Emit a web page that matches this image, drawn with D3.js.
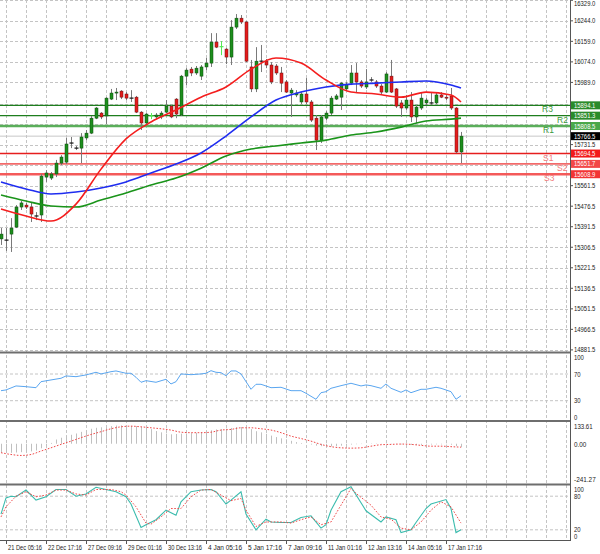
<!DOCTYPE html>
<html><head><meta charset="utf-8">
<script src="https://cdn.jsdelivr.net/npm/d3@7"></script>
<style>body{margin:0;background:#fff}svg{display:block}text{font-family:"Liberation Sans",Arial,sans-serif}</style>
</head><body><svg id="c" width="600" height="554"></svg>
<script>
// ---------- DATA ----------
const opens=[15341,15336,15361,15390,15473,15481,15473,15436,15440,15597,15593,15610,15655,15659,15738,15717,15717,15759,15779,15841,15862,15850,15920,15945,15953,15941,15924,15928,15866,15821,15850,15846,15846,15866,15891,15920,15854,16015,16044,16028,16015,16053,16069,16156,16137,16127,16094,16218,16255,16239,16053,15962,16077,16077,16061,16057,16028,15991,15945,15937,15908,15941,15908,15841,15750,15841,15862,15920,15928,15962,15986,16028,15991,15970,15999,15991,15974,15949,16015,15962,15904,15883,15916,15846,15883,15904,15904,15904,15937,15928,15933,15883,15701];
const highs=[15386,15386,15427,15481,15498,15490,15490,15452,15610,15626,15618,15668,15688,15759,15763,15726,15779,15792,15850,15887,15866,15928,15962,15966,15957,15949,15957,15933,15870,15862,15862,15862,15870,15916,15895,15924,16020,16048,16053,16057,16061,16090,16193,16193,16160,16131,16247,16272,16268,16243,16082,16135,16144,16086,16073,16065,16053,15999,15966,15957,15949,16007,15916,15854,15854,15870,15933,15941,15991,15991,16061,16069,15999,16044,16011,15999,15982,16032,16082,15966,15916,15937,15949,15895,15949,15924,15949,15945,15949,15941,15966,15887,15784];
const lows=[15316,15291,15287,15386,15461,15465,15411,15419,15411,15577,15585,15597,15647,15651,15717,15709,15655,15750,15775,15837,15837,15817,15916,15916,15920,15916,15908,15862,15792,15817,15837,15837,15837,15862,15841,15841,15850,15978,16015,16020,15999,16040,16053,16131,16102,16065,16061,16210,16231,16073,15949,15949,16032,16048,15982,16020,15949,15945,15846,15928,15899,15899,15825,15709,15738,15833,15854,15916,15875,15957,15978,15949,15966,15962,15991,15966,15941,15945,15945,15883,15846,15875,15825,15821,15875,15895,15895,15899,15924,15916,15875,15697,15655];
const closes=[15361,15338,15386,15473,15490,15473,15444,15437,15601,15614,15610,15655,15680,15734,15739,15718,15763,15779,15841,15883,15846,15924,15945,15949,15928,15924,15925,15866,15821,15858,15851,15854,15862,15891,15846,15858,16015,16040,16028,16048,16053,16069,16156,16135,16140,16094,16218,16255,16239,16077,15962,16077,16078,16061,15991,16028,15986,15949,15957,15945,15941,15908,15833,15750,15846,15862,15924,15933,15986,15982,16028,15991,15974,15991,16000,15974,15949,16024,15949,15891,15883,15916,15846,15887,15924,15916,15905,15937,15928,15924,15883,15701,15766.5];
const limeBars=[30,44];

const maIdx=[0,5,10,15,20,25,30,35,40,45,50,55,60,65,70,75,80,85,90,92];
const maFast=[15465,15436,15415,15485,15630,15755,15825,15875,15928,15970,16044,16090,16069,15999,15949,15941,15928,15949,15937,15908];
const maMid=[15577,15548,15527,15535,15552,15577,15614,15651,15697,15767,15846,15916,15949,15970,15982,15986,15991,15995,15978,15966];
const maSlow=[15523,15498,15477,15473,15502,15531,15564,15593,15634,15684,15713,15726,15738,15750,15771,15784,15804,15829,15837,15841];

const levelNames=["R3","R2","R1","S1","S2","S3"];
const levelValues=[15894.1,15851.3,15808.5,15694.5,15651.7,15608.9];
const currentPrice=15766.5;

const priceTickLabels=["16329.0","16244.0","16159.0","16074.0","15989.0","15731.5","15561.5","15476.5","15391.5","15306.5","15221.5","15136.5","15051.5","14966.5","14881.5"];
const priceGrid=[16329.0,16244.0,16159.0,16074.0,15989.0,15901.5,15816.5,15731.5,15646.5,15561.5,15476.5,15391.5,15306.5,15221.5,15136.5,15051.5,14966.5,14881.5];

const rsiIdx=[0,1,3,5,7,8,10,12,13,15,17,19,20,22,23,25,26,27,28,29,31,33,34,35,36,38,40,41,42,43,44,45,46,47,48,50,51,52,54,56,58,60,61,63,64,65,66,68,70,72,73,74,76,77,78,80,81,82,84,85,87,88,90,91,92];
const rsiVal=[45.0,46.1,52.1,51.0,49.5,58.5,61.1,63.6,67.1,66.0,68.6,72.6,70.1,73.5,74.6,71.1,71.1,65.1,57.6,60.0,57.6,62.1,55.1,58.5,70.1,69.0,70.1,71.1,75.0,72.6,72.0,67.5,74.6,74.6,70.1,47.1,54.6,54.6,49.5,50.1,45.0,45.0,41.1,32.1,42.0,43.5,48.6,52.5,56.1,52.1,53.6,52.5,48.6,55.1,48.6,42.6,46.1,42.0,47.1,47.1,50.1,48.6,43.5,32.1,37.5];
const rsiLevels=[70,30];
const rsiLabels=["100","70","30","0"];

const macdHist=[-55,-56,-56,-54,-52,-50,-47,-42,-28,-14,5,26,37,47,55,63,73,84,92,98,101,104,108,112,113,112,110,108,103,98,90,78,70,62,58,60,62,63,65,67,72,77,83,88,90,92,97,102,103,98,90,77,70,61,50,41,33,27,18,10,4,0,-5,-12,-15,-17,-17,-15,-12,-9,-5,-3,-2,0,2,2,1,2,1,-2,-4,-5,-7,-8,-7,-6,-5,-4,-4,-4,-6,-14,-22];
const macdSigIdx=[0,2,4,6,8,10,12,14,16,18,20,22,24,26,28,30,32,34,36,38,40,42,44,46,48,50,52,54,56,58,60,62,64,66,68,70,72,74,76,78,80,82,84,86,88,90,92];
const macdSig=[-55,-66,-72,-66,-45,-25,-4,16,37,57,74,92,104,108,104,98,92,84,71,68,68,71,84,88,98,98,92,84,68,47,32,16,-4,-18,-25,-27,-25,-15,-6,-4,-2,-4,-10,-15,-15,-18,-21];
const macdMax=133.61, macdMin=-241.27;
const macdLabels=["133.61","0.00","-241.27"];

const stIdx=[0,1,2,3,5,7,9,11,13,15,17,19,21,23,25,26,28,29,31,33,35,36,38,40,42,43,45,46,48,49,51,53,54,56,58,60,62,64,65,66,68,70,73,76,77,79,80,82,83,85,86,89,90,91,92];
const stMain=[48,77,80,79,91,73,79,92,92,80,84,96,92,88,79,66,24,29,38,55,46,70,88,91,92,88,66,73,88,48,20,39,34,33,33,42,45,23,29,55,88,97,54,34,43,38,15,20,33,58,66,74,58,15,20];
const ssIdx=[0,1,3,5,7,9,11,13,15,17,19,22,24,25,27,29,30,32,34,36,38,40,42,44,46,48,49,51,53,56,58,60,62,64,66,68,70,71,74,76,78,80,82,84,86,88,90,92];
const ssVal=[43,61,80,88,79,82,91,91,84,82,92,92,88,82,61,32,30,43,58,58,79,91,92,82,72,76,55,26,34,34,32,38,43,29,34,64,94,85,64,43,39,23,20,34,55,70,61,32];
const stLevels=[80,20];
const stLabels=["100","80","20","0"];

const dateBars=[1,9,17,25,33,41,49,57,65,73,81,89];
const dateLabels=["21 Dec 05:16","22 Dec 17:16","27 Dec 09:16","29 Dec 01:16","30 Dec 13:16","4 Jan 05:16","5 Jan 17:16","7 Jan 09:16","11 Jan 01:16","12 Jan 13:16","14 Jan 05:16","17 Jan 17:16"];

// ---------- LAYOUT ----------
const AX=570;
const svg=d3.select("#c");
svg.append("rect").attr("width",600).attr("height",554).attr("fill","#fff");
const x=d3.scaleLinear().domain([0,92]).range([1,461]);
const yP=d3.scaleLinear().domain([14881.5,16329]).range([349.9,0.3]);
const yR=d3.scaleLinear().domain([0,100]).range([420.7,354]);
const yM=d3.scaleLinear().domain([macdMin,macdMax]).range([483,422]);
const yS=d3.scaleLinear().domain([0,100]).range([541,485]);

const defs=svg.append("defs");
defs.append("clipPath").attr("id","cm").append("rect").attr("x",0).attr("y",0).attr("width",AX).attr("height",352);

const gridCol="#c4c4c4", dash="3,2";
const vg=d3.range(1,114,4);
svg.append("g").selectAll("line").data(vg).join("line")
  .attr("x1",d=>x(d)+0.5).attr("x2",d=>x(d)+0.5).attr("y1",0).attr("y2",540)
  .attr("stroke",gridCol).attr("stroke-dasharray",dash);
svg.append("g").selectAll("line").data(priceGrid).join("line")
  .attr("x1",0).attr("x2",AX).attr("y1",d=>Math.round(yP(d))+0.5).attr("y2",d=>Math.round(yP(d))+0.5)
  .attr("stroke",gridCol).attr("stroke-dasharray",dash);
svg.append("g").selectAll("line").data(rsiLevels).join("line")
  .attr("x1",0).attr("x2",AX).attr("y1",d=>yR(d)).attr("y2",d=>yR(d))
  .attr("stroke",gridCol).attr("stroke-dasharray",dash);
svg.append("g").selectAll("line").data(stLevels).join("line")
  .attr("x1",0).attr("x2",AX).attr("y1",d=>yS(d)).attr("y2",d=>yS(d))
  .attr("stroke",gridCol).attr("stroke-dasharray",dash);

const main=svg.append("g").attr("clip-path","url(#cm)");
main.append("line").attr("x1",0).attr("x2",AX).attr("y1",yP(currentPrice)).attr("y2",yP(currentPrice))
  .attr("stroke","#c8c8c8").attr("stroke-width",1);
const lvStyle=[
 {c:"#1e7e1e",w:1.3,box:"#2b8b2b",t:"#3a9a3a",lx:542},
 {c:"#1e7e1e",w:1.3,box:"#2b8b2b",t:"#3a9a3a",lx:557},
 {c:"#5aae5a",w:2.6,box:"#4aa84a",t:"#3a9a3a",lx:543},
 {c:"#e61e1e",w:1.6,box:"#f21a1a",t:"#f27a7a",lx:543},
 {c:"#f26a6a",w:1.8,box:"#f24848",t:"#f27a7a",lx:557},
 {c:"#f45a5a",w:2.4,box:"#f23434",t:"#f27a7a",lx:544}];
main.append("g").selectAll("line").data(levelValues).join("line")
  .attr("x1",0).attr("x2",AX).attr("y1",d=>yP(d)).attr("y2",d=>yP(d))
  .attr("stroke",(d,i)=>lvStyle[i].c).attr("stroke-width",(d,i)=>lvStyle[i].w);

const idx=d3.range(opens.length);
const cg=main.append("g");
cg.selectAll("line.w").data(idx).join("line").attr("class","w")
  .attr("x1",i=>x(i)+0.5).attr("x2",i=>x(i)+0.5).attr("y1",i=>yP(highs[i])).attr("y2",i=>yP(lows[i]))
  .attr("stroke",i=>limeBars.includes(i)?"#55e855":"#7a7a7a").attr("stroke-width",1);
const isDoji=i=>Math.abs(closes[i]-opens[i])<4;
cg.selectAll("rect").data(idx.filter(i=>!isDoji(i))).join("rect")
  .attr("x",i=>x(i)-1).attr("width",3)
  .attr("y",i=>yP(Math.max(opens[i],closes[i])))
  .attr("height",i=>Math.max(1,yP(Math.min(opens[i],closes[i]))-yP(Math.max(opens[i],closes[i]))))
  .attr("fill",i=>closes[i]>=opens[i]?"#1d8f1d":"#e41c1c")
  .attr("stroke",i=>closes[i]>=opens[i]?"#0d4a0d":"#6a1010").attr("stroke-width",0.5);
cg.selectAll("line.d").data(idx.filter(isDoji)).join("line").attr("class","d")
  .attr("x1",i=>x(i)-1.5).attr("x2",i=>x(i)+2.5).attr("y1",i=>yP(opens[i])).attr("y2",i=>yP(opens[i]))
  .attr("stroke",i=>limeBars.includes(i)?"#55e855":"#111").attr("stroke-width",1.2);

const maLine=d3.line().x(d=>x(d[0])).y(d=>yP(d[1])).curve(d3.curveMonotoneX);
[[maSlow,"#1a941a"],[maMid,"#1f2df0"],[maFast,"#f41e1e"]].forEach(([arr,c])=>{
  main.append("path").attr("d",maLine(maIdx.map((k,j)=>[k,arr[j]])))
    .attr("fill","none").attr("stroke",c).attr("stroke-width",1.6);
});

svg.append("g").selectAll("text").data(levelNames).join("text")
  .attr("x",(d,i)=>lvStyle[i].lx).attr("y",(d,i)=>yP(levelValues[i])+7)
  .attr("font-size",8.5).attr("fill",(d,i)=>lvStyle[i].t).text(d=>d);

svg.append("path").attr("d",d3.line().x(d=>x(d[0])).y(d=>yR(d[1]))(rsiIdx.map((k,j)=>[k,rsiVal[j]])))
  .attr("fill","none").attr("stroke","#5aa6f0").attr("stroke-width",1);

svg.append("g").selectAll("line").data(idx).join("line")
  .attr("x1",i=>x(i)+0.5).attr("x2",i=>x(i)+0.5).attr("y1",yM(0)).attr("y2",i=>yM(macdHist[i]))
  .attr("stroke","#c0c0c0").attr("stroke-width",1);
svg.append("path").attr("d",d3.line().x(d=>x(d[0])).y(d=>yM(d[1])).curve(d3.curveMonotoneX)(macdSigIdx.map((k,j)=>[k,macdSig[j]])))
  .attr("fill","none").attr("stroke","#f04a4a").attr("stroke-width",1).attr("stroke-dasharray","1.6,1.6");

svg.append("path").attr("d",d3.line().x(d=>x(d[0])).y(d=>yS(d[1]))(stIdx.map((k,j)=>[k,stMain[j]])))
  .attr("fill","none").attr("stroke","#3cbcae").attr("stroke-width",1.1);
svg.append("path").attr("d",d3.line().x(d=>x(d[0])).y(d=>yS(d[1]))(ssIdx.map((k,j)=>[k,ssVal[j]])))
  .attr("fill","none").attr("stroke","#f04a4a").attr("stroke-width",1).attr("stroke-dasharray","1.6,1.6");

[352.5,421,484.5].forEach(y=>svg.append("line").attr("x1",0).attr("x2",AX+1).attr("y1",y).attr("y2",y)
  .attr("stroke","#6e6e6e").attr("stroke-width",2));
svg.append("line").attr("x1",AX+0.5).attr("x2",AX+0.5).attr("y1",0).attr("y2",541).attr("stroke","#555");
svg.append("line").attr("x1",0).attr("x2",AX+1).attr("y1",540.5).attr("y2",540.5).attr("stroke","#555");

const fs=7;
function lab(txt,y,opts={}){
  const t=svg.append("text").attr("x",opts.x||574).attr("y",y+fs*0.36).attr("font-size",fs)
    .attr("fill",opts.fill||"#222").text(txt);
  if(opts.len) t.attr("textLength",opts.len).attr("lengthAdjust","spacingAndGlyphs");
  return t;
}
priceTickLabels.forEach(s=>{
  const y=yP(+s);
  svg.append("line").attr("x1",AX).attr("x2",AX+3).attr("y1",y).attr("y2",y).attr("stroke","#555");
  lab(s,Math.max(y,3.2),{len:s.length*3.05});
});
function box(val,col){
  const y=yP(val);
  svg.append("rect").attr("x",AX+1).attr("y",y-4).attr("width",29).attr("height",8).attr("fill",col);
  const s=val.toFixed(1);
  lab(s,y,{fill:"#fff",len:s.length*3.05});
}
levelValues.forEach((v,i)=>box(v,lvStyle[i].box));
box(currentPrice,"#000");

[[100,3.5],[70,0],[30,0],[0,-3.5]].forEach(([v,o],j)=>lab(rsiLabels[j],yR(v)+o,{len:rsiLabels[j].length*3.3}));
[[macdMax,4],[0,0.5],[macdMin,-3.7]].forEach(([v,o],j)=>lab(macdLabels[j],yM(v)+o,{len:macdLabels[j].length*3.1}));
[[100,4.3],[80,0],[20,0],[0,-4.3]].forEach(([v,o],j)=>lab(stLabels[j],yS(v)+o,{len:stLabels[j].length*3.3}));

dateBars.forEach((b,j)=>{
  const xx=x(b)+0.5;
  svg.append("line").attr("x1",xx).attr("x2",xx).attr("y1",540).attr("y2",544).attr("stroke","#555");
  svg.append("text").attr("x",xx+1.5).attr("y",549.5).attr("font-size",fs).attr("fill","#222")
    .attr("textLength",34).attr("lengthAdjust","spacingAndGlyphs").text(dateLabels[j]);
});
</script></body></html>
